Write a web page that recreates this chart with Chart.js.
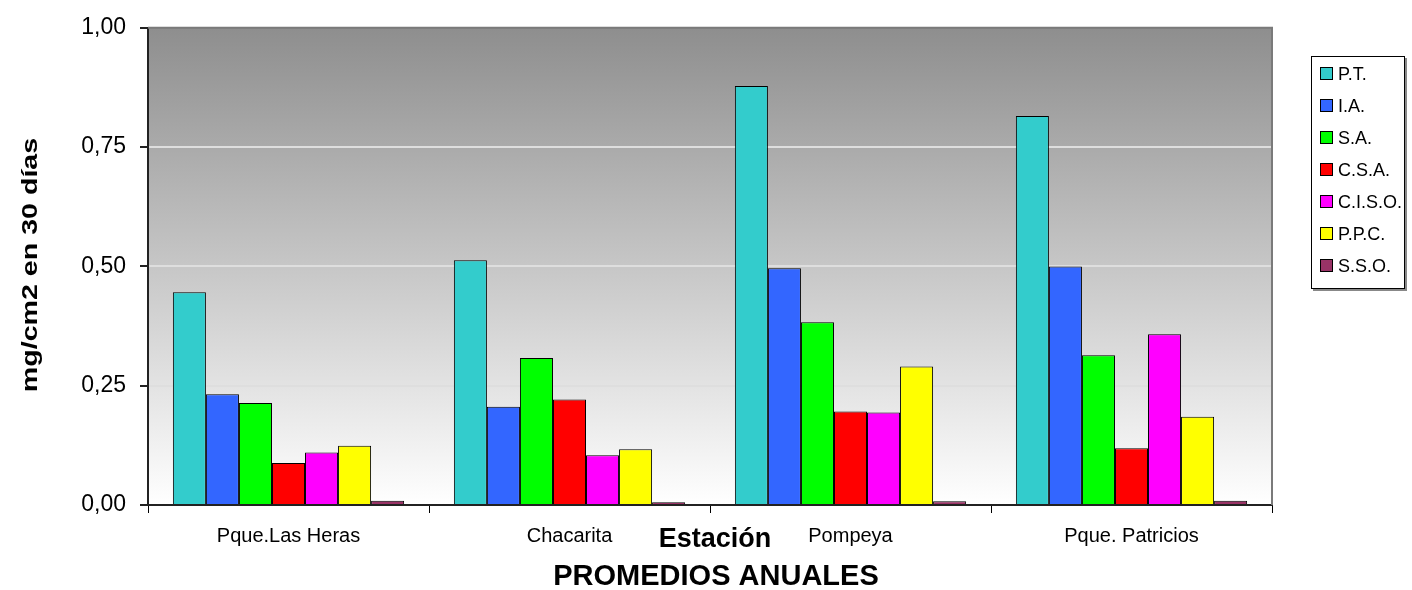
<!DOCTYPE html>
<html>
<head>
<meta charset="utf-8">
<script src="https://cdn.jsdelivr.net/npm/chart.js@4"></script>
<style>
  html, body { margin: 0; padding: 0; background: #fff; }
  #wrap { position: relative; width: 1412px; height: 590px; }
  #legend { position: absolute; left: 1311px; top: 56px; width: 94px; height: 233px;
    border: 1px solid #000; box-shadow: 2px 2px 0 #888; background: #fff; box-sizing: border-box;
    font-family: "Liberation Sans", Arial, sans-serif; font-size: 18px; color: #000; }
  .item { position: absolute; left: 8px; height: 20px; line-height: 20px; white-space: nowrap; }
  .sw { display: inline-block; width: 11px; height: 11px; border: 1px solid #000; vertical-align: middle; margin-right: 5px; position: relative; top: -2px; }
</style>
</head>
<body>
<div id="wrap">
  <canvas id="c" width="1412" height="590"></canvas>
  <div id="legend"></div>
</div>
<script>
const categories = ['Pque.Las Heras', 'Chacarita', 'Pompeya', 'Pque. Patricios'];
const seriesNames = ['P.T.', 'I.A.', 'S.A.', 'C.S.A.', 'C.I.S.O.', 'P.P.C.', 'S.S.O.'];
const PT   = [0.446, 0.513, 0.878, 0.815];
const IA   = [0.232, 0.206, 0.496, 0.500];
const SA   = [0.214, 0.308, 0.383, 0.314];
const CSA  = [0.088, 0.221, 0.196, 0.119];
const CISO = [0.110, 0.104, 0.194, 0.358];
const PPC  = [0.124, 0.117, 0.290, 0.185];
const SSO  = [0.009, 0.006, 0.008, 0.009];
const yTickLabels = ['0,00', '0,25', '0,50', '0,75', '1,00'];
const yTitle = 'mg/cm2 en 30 días';
const xTitle = 'Estación';
const bottomTitle = 'PROMEDIOS ANUALES';

const seriesValues = [PT, IA, SA, CSA, CISO, PPC, SSO];
const colors = ['#33CCCC', '#3366FF', '#00FF00', '#FF0000', '#FF00FF', '#FFFF00', '#993366'];
const FONT = '"Liberation Sans", Arial, sans-serif';

const bgPlugin = {
  id: 'bg',
  beforeDraw(chart) {
    const {ctx, chartArea: a} = chart;
    const g = ctx.createLinearGradient(0, a.top, 0, a.bottom);
    g.addColorStop(0, '#8e8e8e');
    g.addColorStop(1, '#ffffff');
    ctx.save();
    ctx.fillStyle = g;
    ctx.fillRect(a.left, a.top, a.right - a.left, a.bottom - a.top);
    ctx.restore();
  },
  beforeDatasetsDraw(chart) {
    const {ctx, chartArea: a} = chart;
    ctx.save();
    ctx.strokeStyle = '#7a7a7a';
    ctx.lineWidth = 2;
    ctx.beginPath();
    ctx.moveTo(a.left, a.top);
    ctx.lineTo(a.right, a.top);
    ctx.lineTo(a.right, a.bottom);
    ctx.stroke();
    ctx.restore();
  },
  afterDraw(chart) {
    const {ctx} = chart;
    ctx.save();
    ctx.fillStyle = '#000';
    ctx.textAlign = 'center';
    ctx.textBaseline = 'middle';
    // y title
    ctx.save();
    ctx.translate(31, 265);
    ctx.rotate(-Math.PI / 2);
    ctx.scale(1.3, 1);
    ctx.font = 'bold 22px ' + FONT;
    ctx.fillText(yTitle, 0, 0);
    ctx.restore();
    ctx.font = 'bold 27px ' + FONT;
    ctx.fillText(xTitle, 715, 540);
    ctx.font = 'bold 29px ' + FONT;
    ctx.fillText(bottomTitle, 716, 577);
    ctx.restore();
  }
};

new Chart(document.getElementById('c'), {
  type: 'bar',
  data: {
    labels: categories,
    datasets: seriesNames.map((n, i) => ({
      label: n,
      data: seriesValues[i],
      backgroundColor: colors[i],
      borderColor: '#000',
      borderWidth: 1,
      categoryPercentage: 0.823,
      barPercentage: 1.0
    }))
  },
  options: {
    responsive: false,
    animation: false,
    devicePixelRatio: 1,
    layout: { padding: { top: 25, right: 140, bottom: 0, left: 0 } },
    plugins: { legend: { display: false }, tooltip: { enabled: false }, title: { display: false } },
    scales: {
      x: {
        afterFit(s) { s.height = 85; },
        grid: { offset: true, drawOnChartArea: false, tickLength: 8, color: '#000', tickColor: '#000', lineWidth: 1 },
        border: { display: true, color: '#222', width: 2 },
        ticks: { color: '#000', font: { family: FONT, size: 20 }, padding: 11, maxRotation: 0 }
      },
      y: {
        min: 0, max: 1,
        afterFit(s) { s.width = 148; },
        grid: {
          tickLength: 8,
          lineWidth: 2,
          color: (c) => (c.tick && c.tick.value > 0 && c.tick.value < 1) ? '#dedede' : 'rgba(0,0,0,0)',
          tickColor: '#222'
        },
        border: { display: true, color: '#222', width: 2 },
        ticks: {
          stepSize: 0.25,
          color: '#000',
          padding: 14,
          font: { family: FONT, size: 23 },
          callback: (v, i) => yTickLabels[i]
        }
      }
    }
  },
  plugins: [bgPlugin]
});

const leg = document.getElementById('legend');
seriesNames.forEach((n, i) => {
  const d = document.createElement('div');
  d.className = 'item';
  d.style.top = (7 + i * 32) + 'px';
  d.innerHTML = '<span class="sw" style="background:' + colors[i] + '"></span>' + n;
  leg.appendChild(d);
});
</script>
</body>
</html>
